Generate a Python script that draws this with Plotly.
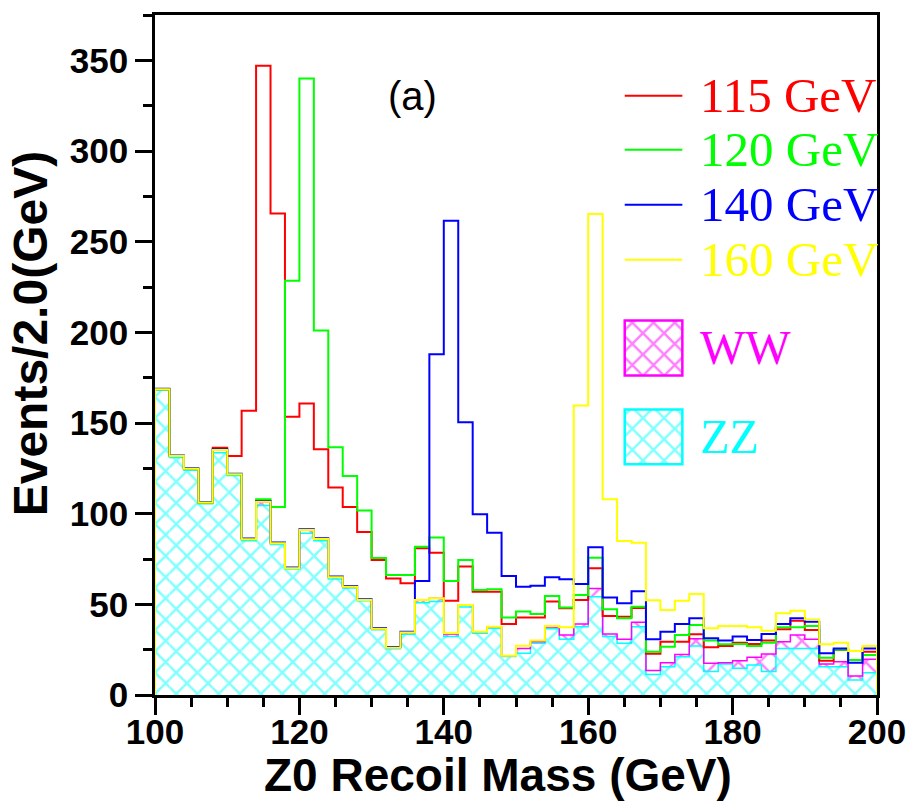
import plotly.graph_objects as go

# Z0 recoil mass histogram, 2 GeV bins from 100 to 200 GeV
bin_edges = list(range(100, 202, 2))

# Background contributions (events per bin)
zz_counts = [168.0, 131.0, 124.0, 105.5, 133.6, 121.0, 85.0, 104.5, 83.0, 69.5,
             89.2, 85.0, 64.0, 59.0, 52.0, 36.0, 25.5, 33.5, 50.9, 51.5,
             32.2, 48.5, 34.0, 36.8, 21.2, 23.0, 28.5, 36.5, 30.7, 37.7,
             54.2, 32.2, 28.5, 37.7, 11.3, 15.6, 21.1, 27.0, 12.9, 17.1,
             14.7, 16.5, 12.9, 25.7, 25.7, 25.7, 15.6, 15.6, 8.3, 12.3]
ww_counts = [0.6, 0.8, 0.8, 0.6, 1.5, 0.7, 0.9, 2.1, 0.7, 0.4,
             1.8, 1.0, 0.9, 0.7, 0.4, 0.6, 0.6, 0.9, 1.5, 1.8,
             1.3, 1.1, 0.9, 0.9, 0.5, 2.7, 0.9, 1.0, 2.4, 1.5,
             4.6, 1.5, 2.2, 2.4, 2.2, 2.2, 1.3, 4.0, 4.6, 0.7,
             4.2, 4.3, 9.7, 3.7, 7.4, 5.0, 1.5, 2.8, 2.2, 7.4]

# Signal + background totals for each Higgs mass hypothesis
total_115 = [168.6, 131.8, 124.8, 106.1, 136.3, 131.8, 156.8, 347.0, 265.5, 153.5,
             160.7, 135.5, 114.4, 103.7, 89.9, 74.5, 64.3, 61.6, 80.9, 78.5,
             52.0, 70.8, 57.0, 57.0, 39.2, 42.8, 42.8, 51.5, 47.8, 52.4,
             69.9, 43.6, 43.2, 48.0, 22.8, 29.4, 29.4, 33.5, 26.3, 27.0,
             28.8, 28.1, 30.0, 36.2, 41.0, 35.9, 18.9, 24.8, 19.3, 23.9]
total_120 = [168.6, 131.8, 124.8, 106.1, 135.1, 121.7, 85.9, 108.0, 103.7, 228.5,
             340.0, 201.0, 136.6, 120.8, 101.7, 75.6, 66.2, 66.2, 81.8, 86.8,
             62.9, 74.5, 57.9, 58.3, 42.8, 46.0, 44.7, 54.6, 48.2, 55.2,
             75.7, 47.3, 42.3, 48.7, 23.9, 26.6, 33.1, 38.6, 30.0, 28.0,
             28.1, 27.0, 28.8, 37.3, 37.3, 38.0, 20.5, 25.0, 19.3, 22.0]
total_140 = [168.9, 132.1, 125.1, 106.4, 135.5, 122.0, 86.3, 107.0, 84.1, 70.3,
             91.4, 86.4, 65.3, 60.1, 52.8, 37.0, 26.5, 34.9, 62.9, 187.9,
             261.6, 150.4, 99.7, 89.5, 65.6, 59.7, 60.3, 64.9, 63.8, 61.2,
             81.5, 53.7, 50.6, 57.2, 30.7, 34.9, 39.2, 42.3, 31.3, 30.0,
             32.2, 30.3, 33.6, 39.2, 42.3, 40.4, 23.0, 25.7, 17.8, 25.7]
total_160 = [168.6, 131.8, 124.8, 106.1, 135.1, 121.7, 85.9, 106.6, 83.7, 69.9,
             91.0, 86.0, 64.9, 59.7, 52.4, 36.6, 26.1, 34.4, 52.4, 53.3,
             34.0, 49.6, 34.9, 37.7, 21.7, 27.2, 30.0, 38.0, 37.3, 159.6,
             265.3, 108.0, 84.9, 84.0, 52.2, 46.9, 52.0, 55.7, 36.8, 38.0,
             38.0, 37.3, 35.5, 45.1, 46.5, 41.7, 28.0, 28.8, 24.3, 27.0]

signal_labels = ["115 GeV", "120 GeV", "140 GeV", "160 GeV"]
signal_colors = ["#ff0000", "#00ff00", "#0000ff", "#ffff00"]
signal_totals = [total_115, total_120, total_140, total_160]

ZZ_COLOR = "#00ffff"
WW_COLOR = "#ff00ff"
HATCH = dict(shape="x", bgcolor="white", size=15, solidity=0.3)

lefts = bin_edges[:-1]
centers = [e + 1 for e in lefts]
bg_top = [z + w for z, w in zip(zz_counts, ww_counts)]


def step_outline(values):
    """Histogram outline: rises from zero at the first edge, drops at the last."""
    xs = [bin_edges[0]] + lefts + [bin_edges[-1], bin_edges[-1]]
    ys = [0] + list(values) + [values[-1], 0]
    return xs, ys


fig = go.Figure()

# Stacked, cross-hatched backgrounds
fig.add_trace(go.Bar(
    x=centers, y=zz_counts, base=0, width=2,
    marker=dict(color="white", line=dict(width=0),
                pattern=dict(fgcolor=ZZ_COLOR, **HATCH)),
    showlegend=False, hoverinfo="skip"))
fig.add_trace(go.Bar(
    x=centers, y=ww_counts, base=zz_counts, width=2,
    marker=dict(color="white", line=dict(width=0),
                pattern=dict(fgcolor=WW_COLOR, **HATCH)),
    showlegend=False, hoverinfo="skip"))

for vals, col in [(zz_counts, ZZ_COLOR), (bg_top, WW_COLOR)]:
    xs, ys = step_outline(vals)
    fig.add_trace(go.Scatter(x=xs, y=ys, mode="lines", line_shape="hv",
                             line=dict(color=col, width=1.5),
                             showlegend=False, hoverinfo="skip"))

# Signal + background lines
for vals, col in zip(signal_totals, signal_colors):
    xs, ys = step_outline(vals)
    fig.add_trace(go.Scatter(x=xs, y=ys, mode="lines", line_shape="hv",
                             line=dict(color=col, width=2),
                             showlegend=False, hoverinfo="skip"))

# Legend boxes drawn on an overlay axis spanning the plot area (0..1)
legend_boxes = [("WW", WW_COLOR, 0.4699, 0.5507), ("ZZ", ZZ_COLOR, 0.3392, 0.4200)]
for name, col, y0, y1 in legend_boxes:
    fig.add_trace(go.Bar(
        x=[0.6905], y=[y1 - y0], base=[y0], width=[0.0798],
        xaxis="x2", yaxis="y2",
        marker=dict(color="white", line=dict(color=col, width=2.5),
                    pattern=dict(fgcolor=col, **HATCH)),
        showlegend=False, hoverinfo="skip"))

shapes = []
annotations = []
line_y = [0.8811, 0.8018, 0.7210, 0.6402]
for label, col, yy in zip(signal_labels, signal_colors, line_y):
    shapes.append(dict(type="line", xref="paper", yref="paper",
                       x0=0.6506, x1=0.7304, y0=yy, y1=yy,
                       line=dict(color=col, width=2)))
    annotations.append(dict(text=label, xref="paper", yref="paper",
                            x=0.7524, y=yy, xanchor="left", yanchor="middle",
                            showarrow=False,
                            font=dict(family="Liberation Serif", size=49, color=col)))
for name, col, y0, y1 in legend_boxes:
    annotations.append(dict(text=name, xref="paper", yref="paper",
                            x=0.7524, y=(y0 + y1) / 2, xanchor="left", yanchor="middle",
                            showarrow=False,
                            font=dict(family="Liberation Serif", size=48, color=col)))

annotations.append(dict(text="(a)", xref="paper", yref="paper", x=0.3563, y=0.8811,
                        xanchor="center", yanchor="middle", showarrow=False,
                        font=dict(family="Liberation Sans", size=40, color="black")))
annotations.append(dict(text="<b>Z0 Recoil Mass (GeV)</b>", xref="paper", yref="paper",
                        x=0.4746, y=-0.118, xanchor="center", yanchor="middle",
                        showarrow=False,
                        font=dict(family="Liberation Sans", size=46, color="black")))
annotations.append(dict(text="<b>Events/2.0(GeV)</b>", xref="paper", yref="paper",
                        x=-0.172, y=0.5316, xanchor="center", yanchor="middle",
                        textangle=-90, showarrow=False,
                        font=dict(family="Liberation Sans", size=48, color="black")))

axis_common = dict(showgrid=False, zeroline=False, showline=True, linecolor="black",
                   linewidth=2.5, mirror=True, ticks="outside", ticklen=17,
                   tickwidth=2.5, tickcolor="black",
                   tickfont=dict(family="Liberation Sans", size=35, color="black",
                                 weight="bold"))

fig.update_layout(
    width=918, height=812,
    margin=dict(l=155, r=36, t=14, b=117),
    paper_bgcolor="white", plot_bgcolor="white",
    barmode="overlay",
    xaxis=dict(range=[100, 200], tick0=100, dtick=20, ticklabelstandoff=-13,
               minor=dict(dtick=5, ticks="outside", ticklen=9, tickwidth=2.5,
                          tickcolor="black"),
               **axis_common),
    yaxis=dict(range=[0, 375], tick0=0, dtick=50,
               minor=dict(dtick=25, ticks="outside", ticklen=9, tickwidth=2.5,
                          tickcolor="black"),
               **axis_common),
    xaxis2=dict(overlaying="x", range=[0, 1], visible=False, fixedrange=True),
    yaxis2=dict(overlaying="y", range=[0, 1], visible=False, fixedrange=True),
    shapes=shapes,
    annotations=annotations,
    showlegend=False,
)

fig.write_html("out.html")
